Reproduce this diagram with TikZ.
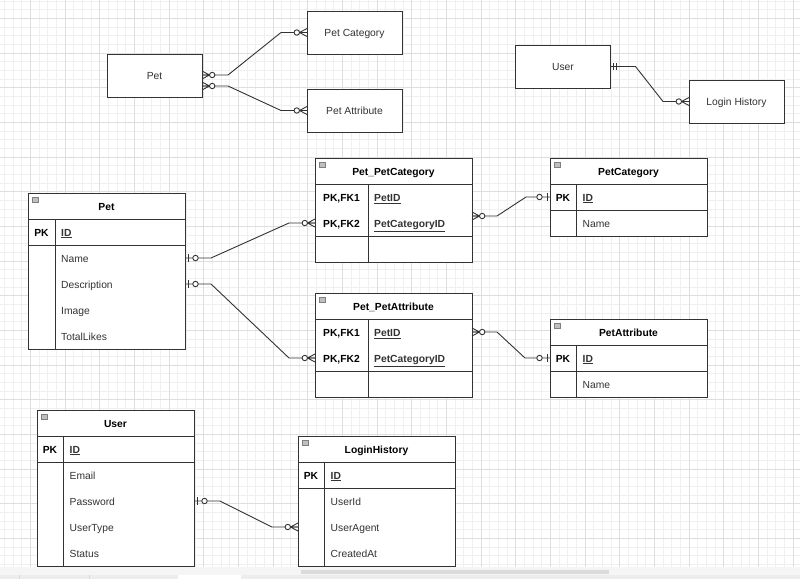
\documentclass[tikz,border=0pt]{standalone}
\usepackage{fontspec}
\setmainfont{Liberation Sans}
\usetikzlibrary{positioning,calc}

\definecolor{erline}{HTML}{333333}
\definecolor{ertext}{HTML}{333333}
\definecolor{gridmin}{HTML}{F0F0F0}
\definecolor{gridmaj}{HTML}{DEDEDE}

\def\erfont{\fontsize{10.3}{12}\selectfont}

\tikzset{
  entity/.style={draw=erline, fill=white, line width=1pt, outer sep=0pt, minimum width=95pt, minimum height=43pt, inner sep=0pt, text height=9pt, text depth=0.5pt, font=\erfont, text=ertext},
  tblhead/.style={draw=erline, fill=white, line width=1pt, outer sep=0pt, minimum width=157pt, minimum height=26pt, inner sep=0pt, text height=9pt, text depth=0.5pt, font=\erfont\bfseries, text=black},
  tblpart/.style={draw=erline, fill=white, line width=1pt, outer sep=0pt, minimum width=157pt, inner sep=0pt},
  tblsep/.style={draw=erline, line width=1pt},
  keytxt/.style={inner sep=0pt, text height=9pt, text depth=0.5pt, font=\erfont\bfseries, text=black},
  fldtxt/.style={inner sep=0pt, anchor=west, text height=9pt, text depth=0.5pt, font=\erfont, text=ertext},
  minbox/.style={draw=black!50, fill=black!25, line width=0.5pt, minimum width=6pt, minimum height=5pt, inner sep=0pt},
  rel/.style={draw=erline, line width=0.9pt},
  zeromany/.pic={
    \draw[rel] (-7.5,0) -- (0,4) (-7.5,0) -- (0,0) (-7.5,0) -- (0,-4);
    \draw[rel, fill=white] (-10.2,0) circle (2.7pt);
  },
  zeroone/.pic={
    \draw[rel] (-3,-4) -- (-3,4);
    \draw[rel, fill=white] (-10.5,0) circle (2.7pt);
  },
  justone/.pic={
    \draw[rel] (-2.5,-3.5) -- (-2.5,3.5) (-6,-3.5) -- (-6,3.5);
  }
}

\begin{document}
\begin{tikzpicture}[x=1pt,y=-1pt]
    \useasboundingbox (0,0) rectangle (800,579);
    \fill[white] (0,0) rectangle (800,579);

    %% Grid
    \foreach \g in {0,...,92} \draw[gridmin, line width=0.7pt] ({4.3+8.6667*\g},0) -- ++(0,579);
    \foreach \g in {0,...,66} \draw[gridmin, line width=0.7pt] (0,{1+8.6667*\g}) -- ++(800,0);
    \foreach \g in {0,...,22} \draw[gridmaj, line width=0.7pt] ({30.3+34.667*\g},0) -- ++(0,579);
    \foreach \g in {0,...,16} \draw[gridmaj, line width=0.7pt] (0,{18.3+34.667*\g}) -- ++(800,0);

    %% Conceptual entities
    \node[entity] (tpet) at (154.5,75.5) {Pet};
    \node[entity] (tcat) at (354.5,32.5) {Pet Category};
    \node[entity] (tattr) at (354.5,110.5) {Pet Attribute};
    \node[entity] (tusr) at (563,66.5) {User};
    \node[entity] (tlog) at (736.5,101.5) {Login History};

    %% Pet table
    \node[tblhead] (pet) at (106.5,206) {Pet};
    \node[tblpart, minimum height=26pt, below=0pt of pet] (petkey) {};
    \node[tblpart, minimum height=104pt, below=0pt of petkey] (petrows) {};
    \draw[tblsep] ([xshift=27pt]petkey.north west) -- ([xshift=27pt]petrows.south west);
    \node[minbox] at ([shift={(7,7)}]pet.north west) {};
    \node[keytxt] at ([xshift=13.5pt]petkey.west) {PK};
    \node[fldtxt] (petid) at ([xshift=33pt]petkey.west) {\bfseries\underline{ID}};
    \foreach \f [count=\i] in {Name,Description,Image,TotalLikes}
        \node[fldtxt] (pet\i) at ([shift={(33,13+26*\i-26)}]petrows.north west) {\f};

    %% Pet_PetCategory table
    \node[tblhead] (ppc) at (393.5,171) {Pet\_PetCategory};
    \node[tblpart, minimum height=52pt, below=0pt of ppc] (ppckey) {};
    \node[tblpart, minimum height=26pt, below=0pt of ppckey] (ppcrows) {};
    \draw[tblsep] ([xshift=53pt]ppckey.north west) -- ([xshift=53pt]ppcrows.south west);
    \node[minbox] at ([shift={(7,7)}]ppc.north west) {};
    \node[keytxt] at ([shift={(26.5,13)}]ppckey.north west) {PK,FK1};
    \node[keytxt] at ([shift={(26.5,39)}]ppckey.north west) {PK,FK2};
    \node[fldtxt] (ppcf1) at ([shift={(59,13)}]ppckey.north west) {\bfseries\underline{PetID}};
    \node[fldtxt] (ppcf2) at ([shift={(59,39)}]ppckey.north west) {\bfseries\underline{PetCategoryID}};

    %% PetCategory table
    \node[tblhead] (pcat) at (628.5,171) {PetCategory};
    \node[tblpart, minimum height=26pt, below=0pt of pcat] (pcatkey) {};
    \node[tblpart, minimum height=26pt, below=0pt of pcatkey] (pcatrows) {};
    \draw[tblsep] ([xshift=26pt]pcatkey.north west) -- ([xshift=26pt]pcatrows.south west);
    \node[minbox] at ([shift={(7,7)}]pcat.north west) {};
    \node[keytxt] at ([xshift=13pt]pcatkey.west) {PK};
    \node[fldtxt] (pcatid) at ([xshift=32.5pt]pcatkey.west) {\bfseries\underline{ID}};
    \node[fldtxt] (pcat1) at ([xshift=32.5pt]pcatrows.west) {Name};

    %% Pet_PetAttribute table
    \node[tblhead] (ppa) at (393.5,306) {Pet\_PetAttribute};
    \node[tblpart, minimum height=52pt, below=0pt of ppa] (ppakey) {};
    \node[tblpart, minimum height=26pt, below=0pt of ppakey] (pparows) {};
    \draw[tblsep] ([xshift=53pt]ppakey.north west) -- ([xshift=53pt]pparows.south west);
    \node[minbox] at ([shift={(7,7)}]ppa.north west) {};
    \node[keytxt] at ([shift={(26.5,13)}]ppakey.north west) {PK,FK1};
    \node[keytxt] at ([shift={(26.5,39)}]ppakey.north west) {PK,FK2};
    \node[fldtxt] (ppaf1) at ([shift={(59,13)}]ppakey.north west) {\bfseries\underline{PetID}};
    \node[fldtxt] (ppaf2) at ([shift={(59,39)}]ppakey.north west) {\bfseries\underline{PetCategoryID}};

    %% PetAttribute table
    \node[tblhead] (pattr) at (628.5,332) {PetAttribute};
    \node[tblpart, minimum height=26pt, below=0pt of pattr] (pattrkey) {};
    \node[tblpart, minimum height=26pt, below=0pt of pattrkey] (pattrrows) {};
    \draw[tblsep] ([xshift=26pt]pattrkey.north west) -- ([xshift=26pt]pattrrows.south west);
    \node[minbox] at ([shift={(7,7)}]pattr.north west) {};
    \node[keytxt] at ([xshift=13pt]pattrkey.west) {PK};
    \node[fldtxt] (pattrid) at ([xshift=32.5pt]pattrkey.west) {\bfseries\underline{ID}};
    \node[fldtxt] (pattr1) at ([xshift=32.5pt]pattrrows.west) {Name};

    %% User table
    \node[tblhead] (usr) at (115.5,423) {User};
    \node[tblpart, minimum height=26pt, below=0pt of usr] (usrkey) {};
    \node[tblpart, minimum height=104pt, below=0pt of usrkey] (usrrows) {};
    \draw[tblsep] ([xshift=26pt]usrkey.north west) -- ([xshift=26pt]usrrows.south west);
    \node[minbox] at ([shift={(7,7)}]usr.north west) {};
    \node[keytxt] at ([xshift=13pt]usrkey.west) {PK};
    \node[fldtxt] (usrid) at ([xshift=32.5pt]usrkey.west) {\bfseries\underline{ID}};
    \foreach \f [count=\i] in {Email,Password,UserType,Status}
        \node[fldtxt] (usr\i) at ([shift={(32.5,13+26*\i-26)}]usrrows.north west) {\f};

    %% LoginHistory table
    \node[tblhead] (lhist) at (376.5,449) {LoginHistory};
    \node[tblpart, minimum height=26pt, below=0pt of lhist] (lhkey) {};
    \node[tblpart, minimum height=78pt, below=0pt of lhkey] (lhrows) {};
    \draw[tblsep] ([xshift=26pt]lhkey.north west) -- ([xshift=26pt]lhrows.south west);
    \node[minbox] at ([shift={(7,7)}]lhist.north west) {};
    \node[keytxt] at ([xshift=13pt]lhkey.west) {PK};
    \node[fldtxt] (lhid) at ([xshift=32.5pt]lhkey.west) {\bfseries\underline{ID}};
    \foreach \f [count=\i] in {UserId,UserAgent,CreatedAt}
        \node[fldtxt] (lh\i) at ([shift={(32.5,13+26*\i-26)}]lhrows.north west) {\f};

    %% Relations
    \draw[rel] ([yshift=0.5pt]tpet.east) -- ++(26,0) -- ($(tcat.west)+(-26,0)$) -- (tcat.west);
    \draw[rel] ([yshift=-10.5pt]tpet.east) -- ++(26,0) -- ($(tattr.west)+(-26,0)$) -- (tattr.west);
    \draw[rel] (tusr.east) -- ++(25,0) -- ($(tlog.west)+(-26,0)$) -- (tlog.west);
    \draw[rel] (pet1 -| pet.east) -- ++(26,0) -- ($(ppcf2 -| ppc.west)+(-26,0)$) -- (ppcf2 -| ppc.west);
    \draw[rel] (pet2 -| pet.east) -- ++(26,0) -- ($(ppaf2 -| ppa.west)+(-26,0)$) -- (ppaf2 -| ppa.west);
    \draw[rel] ([yshift=-6pt]ppckey.east) -- ++(25,0) -- ($(pcatid -| pcat.west)+(-24,0)$) -- (pcatid -| pcat.west);
    \draw[rel] (ppaf1 -| ppa.east) -- ++(25,0) -- ($(pattrid -| pattr.west)+(-25,0)$) -- (pattrid -| pattr.west);
    \draw[rel] (usr2 -| usr.east) -- ++(26,0) -- ($(lh2 -| lhist.west)+(-26,0)$) -- (lh2 -| lhist.west);

    %% Relation ends
    \pic[xscale=-1] at ([yshift=0.5pt]tpet.east) {zeromany};
    \pic at (tcat.west) {zeromany};
    \pic[xscale=-1] at ([yshift=-10.5pt]tpet.east) {zeromany};
    \pic at (tattr.west) {zeromany};
    \pic[xscale=-1] at (tusr.east) {justone};
    \pic at (tlog.west) {zeromany};
    \pic[xscale=-1] at (pet1 -| pet.east) {zeroone};
    \pic at (ppcf2 -| ppc.west) {zeromany};
    \pic[xscale=-1] at (pet2 -| pet.east) {zeroone};
    \pic at (ppaf2 -| ppa.west) {zeromany};
    \pic[xscale=-1] at ([yshift=-6pt]ppckey.east) {zeromany};
    \pic at (pcatid -| pcat.west) {zeroone};
    \pic[xscale=-1] at (ppaf1 -| ppa.east) {zeromany};
    \pic at (pattrid -| pattr.west) {zeroone};
    \pic[xscale=-1] at (usr2 -| usr.east) {zeroone};
    \pic at (lh2 -| lhist.west) {zeromany};

    %% Scroll area
    \fill[black!4] (0,567) rectangle (800,579);
    \fill[black!14] (301,570) rectangle (609,574);
    \fill[black!7] (0,575) rectangle (800,579);
    \fill[white] (178,575) rectangle (241,579);
    \draw[black!15] (19,575) -- (19,579) (89,575) -- (89,579);
\end{tikzpicture}
\end{document}
